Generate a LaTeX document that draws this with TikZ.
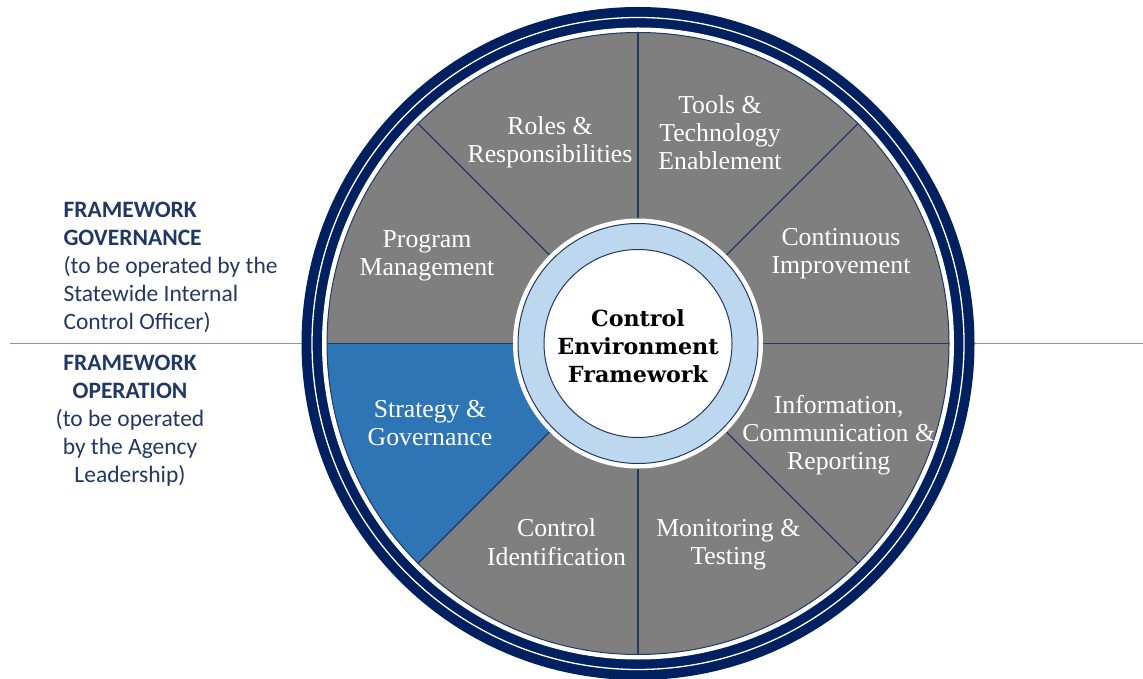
\documentclass[tikz,border=0pt]{standalone}
\usepackage{fontspec}
\setmainfont{Liberation Serif}
\newfontfamily\sidefont{Carlito}
\newfontfamily\hubfont{DejaVu Serif}
\definecolor{navyring}{HTML}{002060}
\definecolor{sectgray}{HTML}{7F7F7F}
\definecolor{sectblue}{HTML}{2E75B6}
\definecolor{hubblue}{HTML}{BDD7EE}
\definecolor{divline}{HTML}{203864}
\definecolor{sidetext}{HTML}{1F3864}
\definecolor{sepline}{HTML}{8497B0}
\begin{document}
\begin{tikzpicture}[x=1pt,y=1pt,
  sepstyle/.style={draw=sepline,line width=1.3pt},
  divider/.style={draw=divline,line width=1.1pt},
  seclabel/.style={text=white,font=\fontsize{25.8}{28.3}\selectfont,align=center,inner sep=0pt,anchor=center},
  hublabel/.style={text=black,font=\hubfont\bfseries\fontsize{22.2}{28}\selectfont,align=center,inner sep=0pt,anchor=center},
  sidelabel/.style={text=sidetext,font=\sidefont\fontsize{23.5}{28}\selectfont,inner sep=0pt}]
\useasboundingbox (0,0) rectangle (1143,678);
\coordinate (O) at (638,334.5);
\coordinate (L1) at (10,334.5);
\coordinate (L2) at (302,334.5);
\coordinate (R1) at (974,334.5);
\coordinate (R2) at (1143,334.5);
\draw[sepstyle] (L1) -- (L2);
\draw[sepstyle] (R1) -- (R2);
% outer rings
\fill[navyring] (O) circle[radius=336.5];
\fill[white] (O) circle[radius=316];
\draw[white,line width=1.3pt] (O) circle[radius=326];
% sectors
\foreach \a in {0,45,...,315}
  \fill[sectgray] (O) -- ++(\a:311) arc[start angle=\a,end angle=\a+45,radius=311] -- cycle;
\fill[sectblue] (O) -- ++(180:311) arc[start angle=180,end angle=225,radius=311] -- cycle;
\draw[divline,line width=1pt] (O) circle[radius=311];
\foreach \a in {0,45,...,315}
  \draw[divider] (O) ++(\a:125) -- ++(\a:186);
% hub
\fill[white] (O) circle[radius=125];
\filldraw[fill=hubblue,draw=divline,line width=1pt] (O) circle[radius=120];
\filldraw[fill=white,draw=divline,line width=1pt] (O) circle[radius=94];
\node[hublabel] (hub) at (638,331.4) {Control\\Environment\\Framework};
% sector labels
\node[seclabel] (roles) at (550,536) {Roles \&\\Responsibilities};
\node[seclabel] (tools) at (720,545.2) {Tools \&\\Technology\\Enablement};
\node[seclabel] (cont) at (841,424.4) {Continuous\\Improvement};
\node[seclabel] (info) at (838.7,242.6) {Information,\\Communication \&\\Reporting};
\node[seclabel] (monit) at (728.3,133.1) {Monitoring \&\\Testing};
\node[seclabel] (ctrlid) at (556.5,135.8) {Control\\Identification};
\node[seclabel] (strat) at (430,255.2) {Strategy \&\\Governance};
\node[seclabel] (prog) at (427,422.4) {Program\\Management};
% side texts
\node[sidelabel,align=left,anchor=north west] (gov) at (63.3,476)
  {\textbf{FRAMEWORK}\\\textbf{GOVERNANCE}\\(to be operated by the\\Statewide Internal\\Control Officer)};
\node[sidelabel,align=center,anchor=north] (oper) at (130,323)
  {\textbf{FRAMEWORK}\\\textbf{OPERATION}\\(to be operated\\by the Agency\\Leadership)};
\end{tikzpicture}
\end{document}
